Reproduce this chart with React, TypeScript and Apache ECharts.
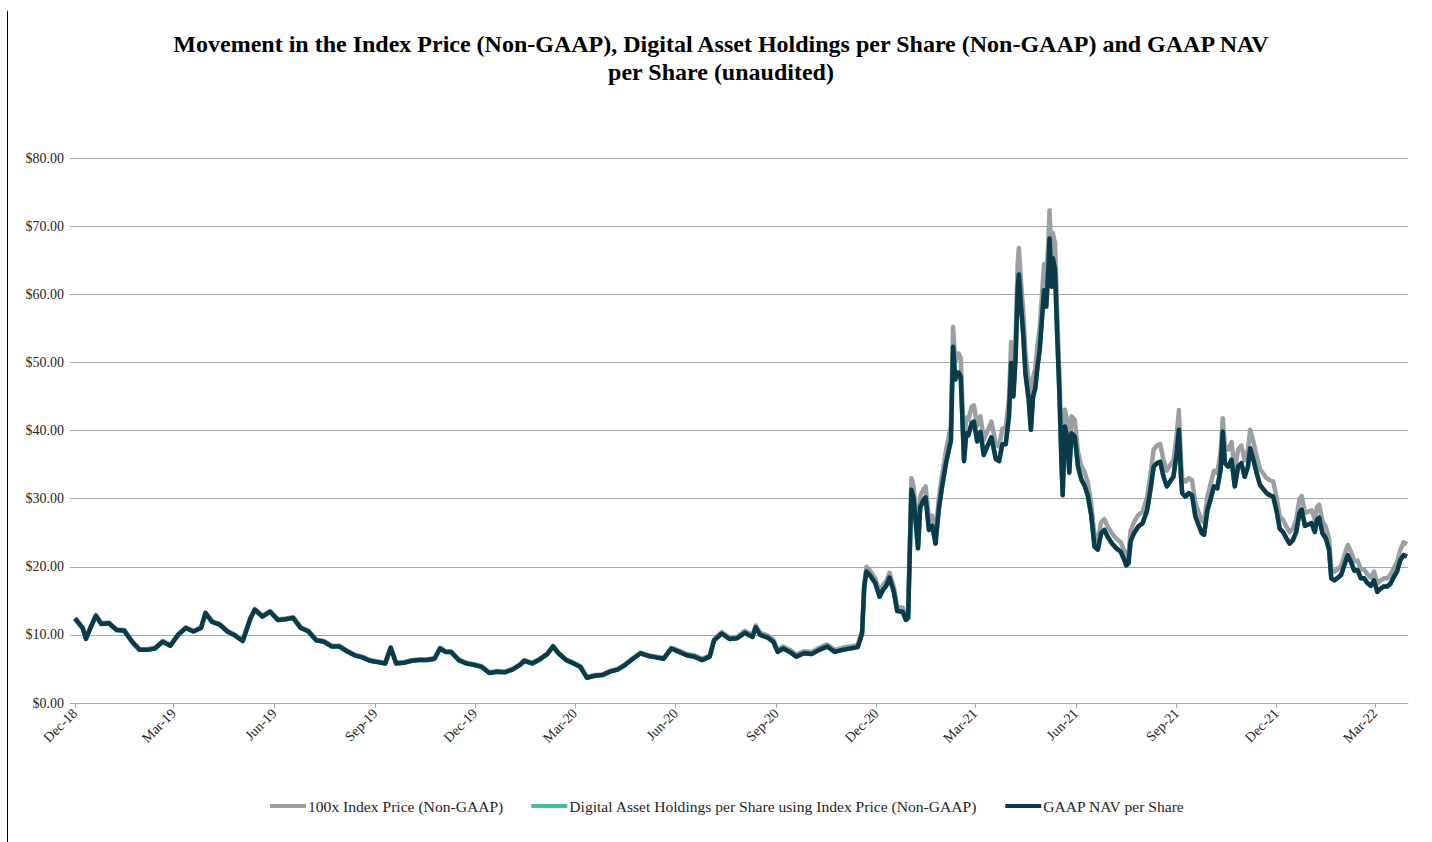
import React, { useEffect, useRef } from 'react';
import * as echarts from 'echarts';

const TITLE = 'Movement in the Index Price (Non-GAAP), Digital Asset Holdings per Share (Non-GAAP) and GAAP NAV\nper Share (unaudited)';
const SERIES_NAMES = [
  '100x Index Price (Non-GAAP)',
  'Digital Asset Holdings per Share using Index Price (Non-GAAP)',
  'GAAP NAV per Share',
];
const MONTHS = ['Jan', 'Feb', 'Mar', 'Apr', 'May', 'Jun', 'Jul', 'Aug', 'Sep', 'Oct', 'Nov', 'Dec'];
const TICK_DATES = [
  '2018-12-01', '2019-03-01', '2019-06-01', '2019-09-01', '2019-12-01', '2020-03-01', '2020-06-01',
  '2020-09-01', '2020-12-01', '2021-03-01', '2021-06-01', '2021-09-01', '2021-12-01', '2022-03-01',
];
const Y_TICKS = [0, 10, 20, 30, 40, 50, 60, 70, 80];

const DATES = [
  '2018-12-01', '2018-12-08', '2018-12-11', '2018-12-15', '2018-12-20', '2018-12-25',
  '2019-01-01', '2019-01-08', '2019-01-15', '2019-01-22', '2019-01-29',
  '2019-02-05', '2019-02-12', '2019-02-19', '2019-02-26',
  '2019-03-05', '2019-03-12', '2019-03-19', '2019-03-26', '2019-03-30',
  '2019-04-05', '2019-04-12', '2019-04-19', '2019-04-26',
  '2019-05-03', '2019-05-10', '2019-05-14', '2019-05-21', '2019-05-28',
  '2019-06-04', '2019-06-11', '2019-06-18', '2019-06-25',
  '2019-07-02', '2019-07-09', '2019-07-16', '2019-07-23', '2019-07-30',
  '2019-08-06', '2019-08-13', '2019-08-20', '2019-08-27',
  '2019-09-03', '2019-09-10', '2019-09-15', '2019-09-20', '2019-09-27',
  '2019-10-04', '2019-10-11', '2019-10-18', '2019-10-25', '2019-10-30',
  '2019-11-04', '2019-11-09', '2019-11-16', '2019-11-23', '2019-11-30',
  '2019-12-07', '2019-12-14', '2019-12-21', '2019-12-28',
  '2020-01-04', '2020-01-11', '2020-01-15', '2020-01-22', '2020-01-29',
  '2020-02-05', '2020-02-10', '2020-02-15', '2020-02-22', '2020-02-29',
  '2020-03-06', '2020-03-12', '2020-03-19', '2020-03-26',
  '2020-04-02', '2020-04-09', '2020-04-16', '2020-04-23', '2020-04-30',
  '2020-05-07', '2020-05-14', '2020-05-21', '2020-05-28',
  '2020-06-04', '2020-06-11', '2020-06-18', '2020-06-25',
  '2020-07-02', '2020-07-06', '2020-07-13', '2020-07-20', '2020-07-27',
  '2020-08-03', '2020-08-10', '2020-08-13', '2020-08-17', '2020-08-24', '2020-08-29',
  '2020-09-02', '2020-09-07', '2020-09-14', '2020-09-19', '2020-09-26',
  '2020-10-03', '2020-10-10', '2020-10-17', '2020-10-24', '2020-10-31',
  '2020-11-07', '2020-11-14', '2020-11-18', '2020-11-20', '2020-11-22', '2020-11-25', '2020-11-30',
  '2020-12-04', '2020-12-07', '2020-12-10', '2020-12-13', '2020-12-17', '2020-12-20', '2020-12-25', '2020-12-28', '2020-12-30',
  '2021-01-02', '2021-01-04', '2021-01-08', '2021-01-10', '2021-01-13', '2021-01-15', '2021-01-18', '2021-01-21', '2021-01-24', '2021-01-27', '2021-01-30',
  '2021-02-03', '2021-02-06', '2021-02-07', '2021-02-09', '2021-02-11', '2021-02-14', '2021-02-16', '2021-02-19', '2021-02-21', '2021-02-23', '2021-02-26', '2021-02-28',
  '2021-03-03', '2021-03-06', '2021-03-09', '2021-03-12', '2021-03-16', '2021-03-20', '2021-03-23', '2021-03-26', '2021-03-29',
  '2021-04-01', '2021-04-03', '2021-04-05', '2021-04-07', '2021-04-09', '2021-04-10', '2021-04-12', '2021-04-14', '2021-04-16', '2021-04-19', '2021-04-21', '2021-04-23', '2021-04-25', '2021-04-27', '2021-04-29',
  '2021-05-01', '2021-05-03', '2021-05-05', '2021-05-07', '2021-05-08', '2021-05-10', '2021-05-11', '2021-05-13', '2021-05-15', '2021-05-17', '2021-05-19', '2021-05-20', '2021-05-22', '2021-05-24', '2021-05-26', '2021-05-28', '2021-05-31',
  '2021-06-03', '2021-06-06', '2021-06-09', '2021-06-12', '2021-06-15', '2021-06-18', '2021-06-21', '2021-06-24', '2021-06-27', '2021-06-30',
  '2021-07-04', '2021-07-08', '2021-07-12', '2021-07-16', '2021-07-17', '2021-07-19', '2021-07-21', '2021-07-24', '2021-07-28',
  '2021-08-01', '2021-08-05', '2021-08-08', '2021-08-11', '2021-08-14', '2021-08-17', '2021-08-20', '2021-08-23', '2021-08-26', '2021-08-29',
  '2021-09-01', '2021-09-03', '2021-09-05', '2021-09-06', '2021-09-09', '2021-09-12', '2021-09-15', '2021-09-18', '2021-09-21', '2021-09-24', '2021-09-26', '2021-09-29',
  '2021-10-02', '2021-10-05', '2021-10-08', '2021-10-11', '2021-10-13', '2021-10-15', '2021-10-18', '2021-10-21', '2021-10-24', '2021-10-27', '2021-10-30',
  '2021-11-02', '2021-11-05', '2021-11-07', '2021-11-10', '2021-11-13', '2021-11-16', '2021-11-19', '2021-11-22', '2021-11-25', '2021-11-28',
  '2021-12-01', '2021-12-04', '2021-12-07', '2021-12-10', '2021-12-13', '2021-12-16', '2021-12-19', '2021-12-22', '2021-12-24', '2021-12-27', '2021-12-30',
  '2022-01-02', '2022-01-05', '2022-01-07', '2022-01-09', '2022-01-12', '2022-01-15', '2022-01-18', '2022-01-20', '2022-01-23', '2022-01-26', '2022-01-29',
  '2022-02-01', '2022-02-04', '2022-02-07', '2022-02-10', '2022-02-13', '2022-02-16', '2022-02-19', '2022-02-22', '2022-02-25', '2022-02-28',
  '2022-03-03', '2022-03-06', '2022-03-09', '2022-03-12', '2022-03-15', '2022-03-18', '2022-03-21', '2022-03-24', '2022-03-27', '2022-03-30',
];

const NAV_PER_SHARE = [
  12.4, 11.0, 9.4, 11.0, 12.8, 11.6,
  11.7, 10.7, 10.6, 9.0, 7.8,
  7.8, 8.0, 9.0, 8.4,
  10.0, 11.0, 10.5, 11.0, 13.2,
  11.9, 11.5, 10.5, 9.9,
  9.1, 12.4, 13.7, 12.7, 13.4,
  12.2, 12.3, 12.5, 11.0,
  10.5, 9.2, 9.0, 8.3, 8.3,
  7.6, 7.0, 6.7, 6.2,
  6.0, 5.8, 8.1, 5.8, 5.9,
  6.2, 6.3, 6.3, 6.5, 8.0,
  7.5, 7.5, 6.3, 5.8, 5.6,
  5.3, 4.4, 4.6, 4.5,
  4.9, 5.6, 6.2, 5.8, 6.4,
  7.2, 8.3, 7.3, 6.3, 5.8,
  5.3, 3.7, 4.0, 4.1,
  4.6, 4.9, 5.6, 6.5, 7.3,
  6.9, 6.7, 6.5, 8.0,
  7.5, 7.0, 6.8, 6.3,
  6.8, 9.2, 10.2, 9.4, 9.5,
  10.3, 9.7, 11.1, 10.0, 9.6, 9.0,
  7.5, 8.0, 7.4, 6.8, 7.3,
  7.2, 7.8, 8.3, 7.5, 7.8,
  8.0, 8.2, 10.2, 17.1, 19.3, 18.8, 17.6,
  15.6, 16.6, 17.2, 18.4, 16.3, 13.5, 13.4, 12.2, 12.5,
  31.3, 30.1, 22.7, 28.7, 29.8, 30.2, 25.4, 26.0, 23.4, 28.5, 31.8,
  35.6, 37.8, 38.4, 52.3, 47.5, 48.5, 47.9, 35.5, 39.6, 39.3, 41.1, 41.3,
  38.4, 39.8, 36.4, 37.6, 39.0, 35.8, 35.5, 38.0, 38.0,
  42.1, 49.9, 45.0, 50.6, 61.0, 62.9, 58.2, 54.2, 48.4, 44.5, 40.1, 45.0, 46.2, 49.4, 51.8,
  56.2, 60.6, 58.2, 64.1, 68.2, 61.1, 65.3, 63.6, 54.0, 45.5, 34.7, 30.5, 40.6, 39.1, 33.8, 39.6, 39.1,
  34.7, 32.8, 31.9, 30.4, 27.6, 23.0, 22.5, 24.9, 25.4, 24.4,
  23.4, 22.7, 22.2, 20.7, 20.2, 20.5, 23.8, 24.9, 25.9,
  26.4, 28.3, 31.3, 34.7, 35.2, 35.4, 33.2, 31.8, 32.5, 33.2,
  36.7, 40.1, 33.0, 30.8, 30.3, 30.8, 30.5, 27.4, 26.1, 24.9, 24.7, 28.3,
  30.0, 31.8, 31.5, 34.2, 39.8, 35.2, 34.7, 35.7, 31.8, 34.7, 35.2,
  33.2, 34.7, 37.4, 35.7, 33.7, 32.0, 31.4, 30.8, 30.5, 30.3,
  28.3, 25.6, 25.1, 24.2, 23.4, 23.9, 25.1, 27.9, 28.4, 26.0, 26.2,
  26.4, 25.1, 26.9, 27.2, 24.9, 24.2, 22.5, 18.3, 18.0, 18.4, 18.8,
  20.3, 21.7, 20.7, 19.4, 19.5, 18.3, 18.3, 17.6, 17.2, 18.0,
  16.3, 16.8, 17.1, 17.1, 17.5, 18.5, 19.3, 21.0, 21.7, 21.5,
];

const INDEX_PRICE_100X = [
  12.5, 11.1, 9.5, 11.1, 12.9, 11.7,
  11.8, 10.8, 10.7, 9.1, 7.9,
  7.9, 8.1, 9.1, 8.5,
  10.1, 11.1, 10.6, 11.1, 13.3,
  12.0, 11.6, 10.6, 10.0,
  9.2, 12.5, 13.8, 12.8, 13.5,
  12.3, 12.4, 12.6, 11.1,
  10.6, 9.3, 9.1, 8.4, 8.4,
  7.7, 7.1, 6.8, 6.3,
  6.1, 5.9, 8.2, 5.9, 6.0,
  6.3, 6.4, 6.4, 6.6, 8.1,
  7.6, 7.6, 6.4, 5.9, 5.7,
  5.4, 4.5, 4.7, 4.6,
  5.0, 5.7, 6.3, 5.9, 6.5,
  7.3, 8.4, 7.4, 6.4, 5.9,
  5.4, 3.8, 4.1, 4.2,
  4.7, 5.0, 5.7, 6.6, 7.4,
  7.0, 6.8, 6.6, 8.1,
  7.7, 7.2, 7.0, 6.5,
  7.0, 9.4, 10.4, 9.6, 9.7,
  10.6, 10.0, 11.4, 10.3, 9.9, 9.3,
  7.8, 8.3, 7.7, 7.1, 7.6,
  7.5, 8.1, 8.6, 7.8, 8.1,
  8.3, 8.5, 10.6, 17.7, 20.0, 19.5, 18.3,
  16.3, 17.3, 17.9, 19.1, 17.0, 14.1, 14.0, 12.8, 13.1,
  33.0, 31.8, 24.0, 30.3, 31.4, 31.8, 26.9, 27.5, 24.8, 30.1, 33.5,
  37.5, 39.8, 40.5, 55.2, 50.2, 51.3, 50.6, 37.5, 41.9, 41.6, 43.5, 43.7,
  40.7, 42.1, 38.6, 39.8, 41.3, 38.0, 37.6, 40.3, 40.3,
  44.7, 53.0, 47.8, 53.7, 64.8, 66.8, 61.8, 57.6, 51.4, 47.3, 42.6, 47.8, 49.1, 52.5, 55.0,
  59.7, 64.4, 61.8, 68.1, 72.3, 64.9, 69.0, 67.5, 57.4, 48.3, 36.9, 32.5, 43.1, 41.5, 35.9, 42.1, 41.5,
  36.8, 34.8, 33.9, 32.3, 29.3, 24.5, 23.9, 26.5, 27.0, 25.9,
  24.9, 24.1, 23.6, 22.0, 21.5, 21.8, 25.3, 26.5, 27.6,
  28.1, 30.2, 33.5, 37.2, 37.8, 38.0, 35.6, 34.1, 34.9, 35.6,
  39.4, 43.0, 35.4, 33.0, 32.5, 33.0, 32.7, 29.4, 28.0, 26.7, 26.5, 30.3,
  32.2, 34.1, 33.8, 36.7, 41.8, 37.8, 37.2, 38.3, 34.1, 37.2, 37.8,
  35.6, 37.2, 40.1, 38.3, 36.2, 34.3, 33.7, 33.0, 32.7, 32.5,
  30.3, 27.4, 26.9, 25.9, 25.1, 25.6, 26.9, 29.9, 30.4, 27.9, 28.1,
  28.3, 26.9, 28.8, 29.1, 26.7, 25.9, 24.1, 19.6, 19.3, 19.7, 20.1,
  21.7, 23.2, 22.2, 20.8, 20.9, 19.6, 19.6, 18.9, 18.4, 19.3,
  17.5, 18.0, 18.3, 18.3, 18.8, 19.8, 20.7, 22.5, 23.6, 23.3,
];

// Drawn beneath the NAV line; indistinguishable from it in the reference.
const HOLDINGS_PER_SHARE = NAV_PER_SHARE;

const COLORS = ['#9b9fa4', '#3cbf9e', '#0b3a4b'];
const FONT = '"Liberation Serif", "Times New Roman", serif';
const TEXT_COLOR = '#262626';

function toTs(s: string): number {
  const [y, m, d] = s.split('-').map(Number);
  return new Date(y, m - 1, d).getTime();
}

function pairs(values: number[]) {
  return DATES.map((d, i) => [toTs(d), values[i]]);
}

export default function App() {
  const ref = useRef<HTMLDivElement>(null);

  useEffect(() => {
    document.body.style.margin = '0';
    if (!ref.current) return;
    const chart = echarts.init(ref.current, undefined, { renderer: 'svg' });
    const tickValues = TICK_DATES.map(toTs);
    const lineSeries = (name: string, values: number[], color: string, width: number) => ({
      name,
      type: 'line',
      data: pairs(values),
      showSymbol: false,
      symbol: 'none',
      lineStyle: { color, width, join: 'round' },
      itemStyle: { color },
      emphasis: { disabled: true },
    });
    chart.setOption({
      animation: false,
      backgroundColor: '#ffffff',
      title: {
        text: TITLE,
        left: '50%',
        top: 25,
        textAlign: 'center',
        textStyle: {
          fontFamily: FONT,
          fontWeight: 'bold',
          fontSize: 24,
          lineHeight: 28,
          color: '#000000',
        },
      },
      legend: {
        top: 793,
        left: 265,
        itemWidth: 36,
        itemHeight: 4,
        itemGap: 28,
        icon: 'rect',
        textStyle: { fontFamily: FONT, fontSize: 15.6, color: TEXT_COLOR, padding: [0, 0, 0, -3] },
        data: SERIES_NAMES.map((n, i) => ({ name: n, itemStyle: { color: COLORS[i] } })),
      },
      graphic: [
        {
          type: 'line',
          shape: { x1: 7.5, y1: 11, x2: 7.5, y2: 842 },
          style: { stroke: '#000000', lineWidth: 1 },
        },
      ],
      grid: { left: 75, right: 24, top: 158, bottom: 139, containLabel: false },
      xAxis: {
        type: 'value',
        min: toTs('2018-12-01'),
        max: toTs('2022-03-31'),
        axisLine: { show: true, lineStyle: { color: '#a6a6a6', width: 1 } },
        axisTick: { show: true, customValues: tickValues, length: 5, lineStyle: { color: '#a6a6a6' } },
        splitLine: { show: false },
        axisLabel: {
          customValues: tickValues,
          rotate: 45,
          margin: 8,
          fontFamily: FONT,
          fontSize: 14,
          color: TEXT_COLOR,
          formatter: (v: number) => {
            const d = new Date(v);
            return MONTHS[d.getMonth()] + '-' + String(d.getFullYear()).slice(2);
          },
        },
      },
      yAxis: {
        type: 'value',
        min: Y_TICKS[0],
        max: Y_TICKS[Y_TICKS.length - 1],
        interval: Y_TICKS[1] - Y_TICKS[0],
        axisLine: { show: false },
        axisTick: { show: true, length: 5, lineStyle: { color: '#a6a6a6' } },
        splitLine: { show: true, lineStyle: { color: '#a6a6a6', width: 1 } },
        axisLabel: {
          margin: 11,
          fontFamily: FONT,
          fontSize: 14,
          color: TEXT_COLOR,
          formatter: (v: number) => '$' + v.toFixed(2),
        },
      },
      series: [
        lineSeries(SERIES_NAMES[0], INDEX_PRICE_100X, COLORS[0], 4.5),
        lineSeries(SERIES_NAMES[1], HOLDINGS_PER_SHARE, COLORS[1], 4.5),
        lineSeries(SERIES_NAMES[2], NAV_PER_SHARE, COLORS[2], 4.5),
      ],
    });
    return () => chart.dispose();
  }, []);

  return <div ref={ref} style={{ width: 1432, height: 842 }} />;
}
